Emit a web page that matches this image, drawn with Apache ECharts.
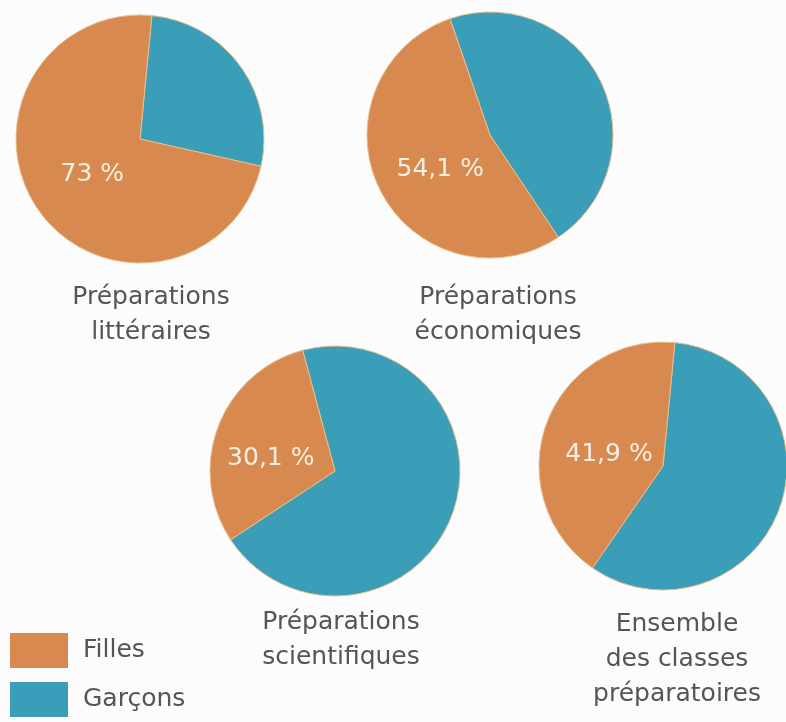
<!DOCTYPE html>
<html>
<head>
<meta charset="utf-8">
<script src="https://cdn.jsdelivr.net/npm/echarts@6/dist/echarts.min.js"></script>
<style>
  html, body { margin: 0; padding: 0; background: #fcfcfc; }
  #chart { width: 786px; height: 722px; }
</style>
</head>
<body>
<div id="chart"></div>
<script>
// données
const legendNames = ['Filles', 'Garçons']
const pieTitles = [
  'Préparations\nlittéraires',
  'Préparations\néconomiques',
  'Préparations\nscientifiques',
  'Ensemble\ndes classes\npréparatoires',
]
const filles = [73, 54.1, 30.1, 41.9]
const garcons = [27, 45.9, 69.9, 58.1]

// mise en page
const centers = [[140, 139], [490, 135], [335, 471], [663, 466]]
const radii = [124, 123, 125, 124]
const startAngles = [84.5, 109, 105, 84.5]
const labelShift = [[5, -3], [8, 6], [-3, 11], [7, 11]]
const titlePos = [[151, 280], [498, 280], [341, 605], [677, 607]]

const orange = '#d88950'
const blue = '#3a9eb9'
const font = 'DejaVu Sans'

const chart = echarts.init(document.getElementById('chart'))

const series = filles.map((f, i) => ({
  type: 'pie',
  center: centers[i],
  radius: radii[i],
  startAngle: startAngles[i],
  clockwise: true,
  silent: true,
  itemStyle: { borderColor: '#e6c08c', borderWidth: 1 },
  label: { show: false },
  labelLine: { show: false },
  labelLayout: { dx: labelShift[i][0], dy: labelShift[i][1] },
  data: [
    { name: 'Garçons', value: garcons[i], itemStyle: { color: blue } },
    {
      name: 'Filles',
      value: f,
      itemStyle: { color: orange },
      label: {
        show: true,
        position: 'inside',
        color: '#f7efdf',
        fontSize: 25,
        fontFamily: font,
        formatter: (p) => String(p.value).replace('.', ',') + ' %',
      },
    },
  ],
}))

const option = {
  backgroundColor: '#fcfcfc',
  animation: false,
  title: pieTitles.map((t, i) => ({
    text: t,
    left: titlePos[i][0],
    top: titlePos[i][1],
    textAlign: 'center',
    padding: 0,
    textStyle: {
      fontFamily: font,
      fontWeight: 'normal',
      fontSize: 25,
      lineHeight: 35,
      color: '#555',
    },
  })),
  legend: {
    data: legendNames,
    orient: 'vertical',
    left: 10,
    top: 633,
    itemWidth: 58,
    itemHeight: 35,
    itemGap: 14,
    icon: 'rect',
    selectedMode: false,
    padding: 0,
    itemStyle: { borderWidth: 0 },
    textStyle: {
      fontFamily: font,
      fontSize: 25,
      color: '#555',
      padding: [0, 0, 0, 10],
    },
  },
  color: [orange, blue],
  series: series,
}

chart.setOption(option)
</script>
</body>
</html>
